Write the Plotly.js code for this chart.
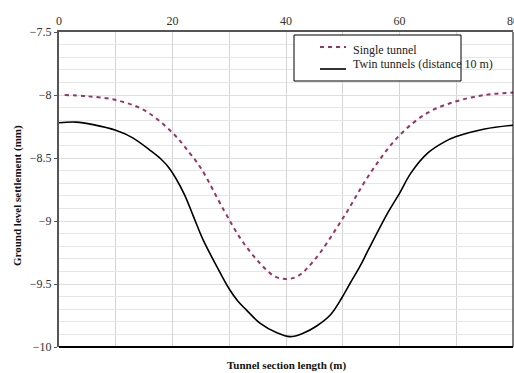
<!DOCTYPE html>
<html>
<head>
<meta charset="utf-8">
<script src="https://cdn.plot.ly/plotly-3.0.1.min.js"></script>
<style>html,body{margin:0;padding:0;background:#fff;}#chart{width:514px;height:373px;}</style>
</head>
<body>
<div id="chart"></div>
<script>
// Data
const singleX = [1, 5, 10, 15, 20, 23, 25, 29, 32, 35.1, 38, 40, 42, 45, 50, 55, 60, 65, 70, 75, 80];
const singleY = [-8.00, -8.01, -8.04, -8.12, -8.30, -8.46, -8.58, -8.91, -9.14, -9.32, -9.44, -9.46, -9.44, -9.31, -8.98, -8.61, -8.32, -8.14, -8.05, -8.00, -7.98];

const twinX = [0, 3, 6, 10, 13, 16, 18, 19.5, 22, 23.7, 25.4, 27.8, 30, 31.5, 33, 35.4, 38.4, 40.7, 43, 45.4, 47.8, 49.8, 51.3, 53, 54.5, 58, 60, 62, 65, 68, 70, 75, 80];
const twinY = [-8.22, -8.215, -8.235, -8.28, -8.34, -8.437, -8.51, -8.585, -8.78, -8.965, -9.15, -9.36, -9.54, -9.635, -9.705, -9.81, -9.887, -9.918, -9.891, -9.833, -9.746, -9.613, -9.494, -9.363, -9.23, -8.93, -8.78, -8.62, -8.46, -8.37, -8.33, -8.27, -8.24];

const seriesNames = ["Single tunnel", "Twin tunnels (distance 10 m)"];
const xTitle = "Tunnel section length (m)";
const yTitle = "Ground level settlement (mm)";

const serif = "'Liberation Serif', 'Times New Roman', serif";
const colors = ["#993366", "#000000"];
const dashes = ["4px,4px", "solid"];
const widths = [2, 1.6];

const traces = [
  {x: singleX, y: singleY, name: seriesNames[0], mode: "lines",
   line: {color: colors[0], width: widths[0], dash: dashes[0], shape: "spline", smoothing: 1}},
  {x: twinX, y: twinY, name: seriesNames[1], mode: "lines",
   line: {color: colors[1], width: widths[1], dash: dashes[1], shape: "spline", smoothing: 1}}
];

// plot-area pixel helpers for the hand-drawn legend box (layout only)
const L = 59, T = 32, W = 454, H = 315;
const px = v => (v - L) / W;
const py = v => (T + H - v) / H;

const legendRows = [50, 64];
const sampleRows = [47, 69];

const layout = {
  width: 514, height: 373,
  margin: {l: L, r: 514 - L - W, t: T, b: 373 - T - H},
  paper_bgcolor: "#fff", plot_bgcolor: "#fff",
  font: {family: serif, size: 12, color: "#333"},
  showlegend: false,
  xaxis: {range: [0, 80], side: "top", dtick: 20, tick0: 0,
          showgrid: true, gridcolor: "#d4d4d4", gridwidth: 1,
          minor: {dtick: 10, showgrid: true, gridcolor: "#d4d4d4", gridwidth: 1},
          showline: true, linecolor: "#555", linewidth: 2,
          ticks: "", zeroline: false, ticklabeloverflow: "allow",
          tickfont: {family: serif, size: 12, color: "#333"}},
  yaxis: {range: [-10, -7.5], dtick: 0.5, tick0: -10,
          showgrid: true, gridcolor: "#dedede", gridwidth: 1,
          minor: {dtick: 0.1, showgrid: true, gridcolor: "#e6e6e6", gridwidth: 1},
          showline: true, linecolor: "#555", linewidth: 2,
          ticks: "outside", ticklen: 3, tickcolor: "#555", zeroline: false,
          tickfont: {family: serif, size: 12, color: "#333"}},
  annotations: [
    {text: xTitle, xref: "paper", yref: "paper", x: 0.5, y: py(365),
     xanchor: "center", yanchor: "middle", showarrow: false,
     font: {family: serif, size: 11, color: "#111", weight: 700}},
    {text: yTitle, xref: "paper", yref: "paper", x: px(18), y: py(196), textangle: -90,
     xanchor: "center", yanchor: "middle", showarrow: false,
     font: {family: serif, size: 11, color: "#111", weight: 700}},
    {text: seriesNames[0], xref: "paper", yref: "paper", x: px(351), y: py(legendRows[0]),
     xanchor: "left", yanchor: "middle", showarrow: false,
     font: {family: serif, size: 12, color: "#222"}},
    {text: seriesNames[1], xref: "paper", yref: "paper", x: px(351), y: py(legendRows[1]),
     xanchor: "left", yanchor: "middle", showarrow: false,
     font: {family: serif, size: 12, color: "#222"}}
  ],
  shapes: [
    {type: "line", xref: "paper", yref: "paper", x0: 0, x1: 1, y0: 0, y1: 0,
     line: {color: "#000", width: 2}},
    {type: "line", xref: "paper", yref: "paper", x0: 1, x1: 1, y0: 0, y1: 1,
     line: {color: "#000", width: 1}},
    {type: "rect", xref: "paper", yref: "paper", x0: px(294), x1: px(461), y0: py(81), y1: py(35),
     line: {color: "#000", width: 1}, fillcolor: "#fff", layer: "above"},
    {type: "line", xref: "paper", yref: "paper", x0: px(320), x1: px(346), y0: py(sampleRows[0]), y1: py(sampleRows[0]),
     line: {color: colors[0], width: widths[0], dash: dashes[0]}, layer: "above"},
    {type: "line", xref: "paper", yref: "paper", x0: px(320), x1: px(346), y0: py(sampleRows[1]), y1: py(sampleRows[1]),
     line: {color: colors[1], width: widths[1]}, layer: "above"}
  ]
};

Plotly.newPlot("chart", traces, layout, {displayModeBar: false, staticPlot: true});
</script>
</body>
</html>
